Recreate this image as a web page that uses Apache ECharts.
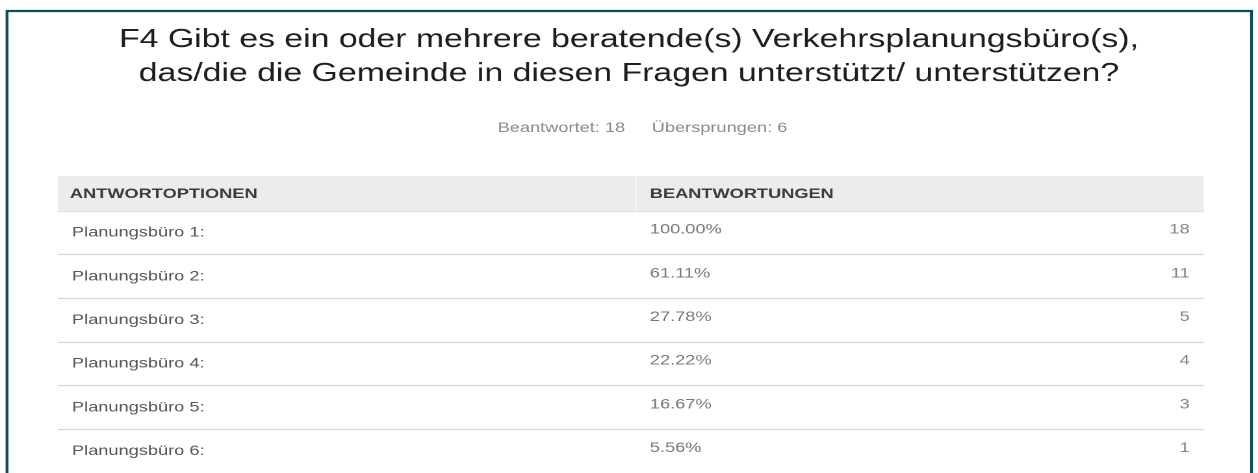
<!DOCTYPE html>
<html>
<head>
<meta charset="utf-8">
<title>F4 Verkehrsplanungsbüro</title>
<script src="https://cdn.jsdelivr.net/npm/echarts@6/dist/echarts.min.js"></script>
<style>
  html, body { margin: 0; padding: 0; background: #fff; overflow: hidden; }
  /* the source screenshot is stretched sideways, so draw narrow and stretch it */
  #main { width: 968px; height: 473px; transform: scaleX(1.2996); transform-origin: 0 0; }
</style>
</head>
<body>
<div id="main"></div>
<script>
const titleText = "F4 Gibt es ein oder mehrere beratende(s) Verkehrsplanungsbüro(s),\ndas/die die Gemeinde in diesen Fragen unterstützt/ unterstützen?";
const answered = 18;
const skipped = 6;
const columns = ["ANTWORTOPTIONEN", "BEANTWORTUNGEN"];
const options = [
  "Planungsbüro 1:",
  "Planungsbüro 2:",
  "Planungsbüro 3:",
  "Planungsbüro 4:",
  "Planungsbüro 5:",
  "Planungsbüro 6:"
];
const percents = [100.0, 61.11, 27.78, 22.22, 16.67, 5.56];
const counts = [18, 11, 5, 4, 3, 1];

const font = "'Liberation Sans', Arial, sans-serif";
// column anchors on the hidden 0..1 x axis
const pctX = 0.5166;
const countX = 0.9877;

const myChart = echarts.init(document.getElementById("main"), null, {
  renderer: "canvas",
  devicePixelRatio: 2
});

const option = {
  backgroundColor: "#fff",
  animation: false,
  title: {
    text: titleText,
    left: "center",
    top: 23,
    padding: 0,
    textStyle: {
      fontFamily: font,
      fontSize: 26,
      fontWeight: "normal",
      lineHeight: 34,
      color: "#1e1e1e"
    }
  },
  grid: {
    left: 44.6,
    top: 211,
    width: 881.6,
    height: 262
  },
  xAxis: {
    type: "value",
    min: 0,
    max: 1,
    show: false
  },
  yAxis: {
    type: "category",
    inverse: true,
    data: options,
    axisLine: { show: false },
    axisTick: { show: false },
    axisLabel: {
      align: "left",
      margin: -10.8,
      fontFamily: font,
      fontSize: 14,
      color: "#555",
      verticalAlign: "middle",
      padding: [0, 0, 4, 0]
    },
    splitLine: {
      show: true,
      lineStyle: { color: "#d6d6d6", width: 1.2 }
    }
  },
  graphic: [
    {
      // keep the last row open at the bottom edge
      type: "rect",
      z: 99,
      shape: { x: 40, y: 471, width: 890, height: 4 },
      style: { fill: "#fff" }
    },
    {
      type: "rect",
      z: 100,
      shape: { x: 5.4, y: 11, width: 957.6, height: 500 },
      style: { fill: "none", stroke: "#0e4d5b", lineWidth: 2.2 }
    },
    {
      type: "rect",
      z: 100,
      shape: { x: 44.6, y: 176, width: 881.6, height: 35.5 },
      style: { fill: "#ebecec" }
    },
    {
      type: "rect",
      z: 101,
      shape: { x: 489, y: 176, width: 0.9, height: 35.5 },
      style: { fill: "#f8f8f8" }
    },
    {
      type: "text",
      z: 102,
      x: 53.8,
      y: 194,
      style: {
        text: columns[0],
        font: "bold 14px " + font,
        fill: "#3a3d40",
        verticalAlign: "middle"
      }
    },
    {
      type: "text",
      z: 102,
      x: 500,
      y: 194,
      style: {
        text: columns[1],
        font: "bold 14px " + font,
        fill: "#3a3d40",
        verticalAlign: "middle"
      }
    },
    {
      type: "text",
      x: 481,
      y: 128,
      style: {
        text: "Beantwortet: " + answered,
        font: "14px " + font,
        fill: "#8a8a8a",
        align: "right",
        verticalAlign: "middle"
      }
    },
    {
      type: "text",
      x: 501.5,
      y: 128,
      style: {
        text: "Übersprungen: " + skipped,
        font: "14px " + font,
        fill: "#8a8a8a",
        align: "left",
        verticalAlign: "middle"
      }
    }
  ],
  series: [
    {
      name: "Prozent",
      type: "scatter",
      symbolSize: 0,
      data: percents.map((p, i) => [pctX, i, p]),
      label: {
        show: true,
        position: "right",
        distance: 0,
        offset: [0, -3],
        fontFamily: font,
        fontSize: 14,
        color: "#555",
        formatter: (p) => p.value[2].toFixed(2) + "%"
      }
    },
    {
      name: "Anzahl",
      type: "scatter",
      symbolSize: 0,
      data: counts.map((c, i) => [countX, i, c]),
      label: {
        show: true,
        position: "left",
        distance: 0,
        offset: [0, -3],
        fontFamily: font,
        fontSize: 14,
        color: "#666",
        formatter: (p) => String(p.value[2])
      }
    }
  ]
};

myChart.setOption(option);
</script>
</body>
</html>
